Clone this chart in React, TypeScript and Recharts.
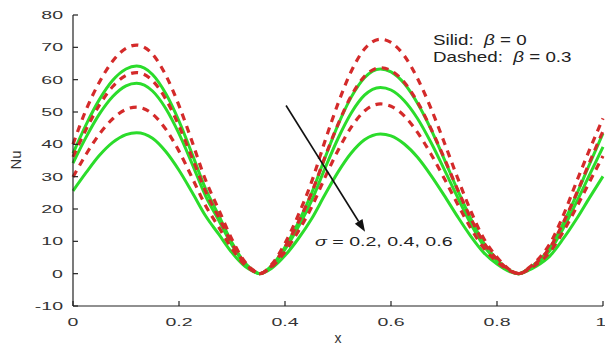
import { LineChart, Line, XAxis, YAxis, ReferenceLine } from 'recharts';

// x positions (denser near peaks and troughs)
const xs = [
    0, 0.025, 0.05, 0.075, 0.1, 0.12, 0.15, 0.175, 0.2, 0.225, 0.25, 0.275, 0.3, 0.325, 0.34, 0.352,
    0.375, 0.4, 0.425, 0.45, 0.475, 0.5, 0.525, 0.55, 0.58, 0.6, 0.625, 0.65, 0.675, 0.7, 0.725, 0.75, 0.775, 0.8, 0.825, 0.841,
    0.86, 0.875, 0.9, 0.925, 0.95, 0.975, 1
];

// solid: beta = 0
const solid02 = [
    37.2, 46.2, 53.9, 59.8, 63.3, 64.2, 61.6, 55.7, 47.2, 36.9, 26.3, 18.0, 9.6, 3.2, 1.0, 0,
    2.5, 8.2, 15.8, 24.8, 35.6, 46.0, 54.6, 60.6, 63.3, 62.4, 58.8, 52.7, 44.8, 35.6, 26.1, 17.2, 9.5, 4.4, 0.9, 0,
    1.6, 3.4, 8.0, 15.5, 24.4, 34.0, 43.4
];
const solid04 = [
    34.2, 42.3, 49.4, 54.8, 58.1, 58.9, 56.5, 51.1, 43.3, 33.9, 24.1, 16.5, 8.8, 2.9, 0.9, 0,
    2.3, 7.5, 14.4, 22.5, 32.4, 41.8, 49.7, 55.2, 57.6, 56.8, 53.5, 48.0, 40.7, 32.4, 23.8, 15.6, 8.6, 4.0, 0.9, 0,
    1.4, 3.1, 7.2, 14.0, 22.1, 30.7, 39.2
];
const solid06 = [
    25.6, 31.3, 36.6, 40.6, 43.0, 43.6, 41.9, 37.8, 32.0, 25.1, 17.9, 12.2, 6.5, 2.2, 0.7, 0,
    1.7, 5.6, 10.8, 16.9, 24.3, 31.4, 37.3, 41.4, 43.2, 42.6, 40.1, 36.0, 30.5, 24.3, 17.8, 11.7, 6.5, 3.0, 0.6, 0,
    1.1, 2.4, 5.5, 10.8, 16.9, 23.6, 30.1
];

// dashed: beta = 0.3
const dashed02 = [
    40.0, 50.8, 59.3, 65.8, 69.7, 70.7, 67.9, 61.4, 52.0, 40.7, 29.0, 19.8, 10.6, 3.5, 1.1, 0,
    2.9, 9.4, 18.1, 28.3, 40.8, 52.6, 62.6, 69.5, 72.5, 71.5, 67.4, 60.4, 51.3, 40.8, 29.9, 19.6, 10.9, 5.1, 1.1, 0,
    1.8, 4.0, 9.3, 18.0, 28.4, 38.5, 48.0
];
const dashed04 = [
    36.1, 44.7, 52.2, 57.9, 61.3, 62.2, 59.7, 54.0, 45.7, 35.8, 25.5, 17.4, 9.3, 3.1, 0.9, 0,
    2.5, 8.3, 15.9, 24.9, 35.9, 46.2, 55.0, 61.0, 63.7, 62.8, 59.2, 53.1, 45.0, 35.9, 26.3, 17.3, 9.6, 4.5, 1.0, 0,
    1.6, 3.5, 8.1, 15.8, 24.8, 34.6, 44.1
];
const dashed06 = [
    29.9, 37.0, 43.2, 47.9, 50.8, 51.5, 49.4, 44.7, 37.9, 29.6, 21.1, 14.4, 7.7, 2.6, 0.8, 0,
    2.1, 6.8, 13.1, 20.5, 29.6, 38.1, 45.3, 50.3, 52.5, 51.8, 48.8, 43.7, 37.1, 29.6, 21.7, 14.2, 7.9, 3.7, 0.8, 0,
    1.3, 2.9, 6.7, 13.0, 20.5, 28.5, 36.4
];

const xTicks = [0, 0.2, 0.4, 0.6, 0.8, 1];
const yTicks = [-10, 0, 10, 20, 30, 40, 50, 60, 70, 80];

const data = xs.map((x, i) => ({
    x,
    s02: solid02[i],
    s04: solid04[i],
    s06: solid06[i],
    d02: dashed02[i],
    d04: dashed04[i],
    d06: dashed06[i]
}));

const GREEN = '#2bdc2b';
const RED = '#d42a2a';
const AXIS = '#222';
const FONT = '"Liberation Sans", Arial, sans-serif';

// the source picture is stretched sideways, so the labels are too
const YTick = ({ x, y, payload }: any) => (
    <text x={0} y={0} transform={`translate(${x},${y}) scale(1.7,1)`} textAnchor="end" dy={4}
        fontSize={11.5} fill="#333" fontFamily={FONT}>{payload.value}</text>
);

const XTick = ({ x, y, payload }: any) => (
    <text x={0} y={0} transform={`translate(${x},${y}) scale(1.7,1)`} textAnchor="middle" dy={10}
        fontSize={11.5} fill="#333" fontFamily={FONT}>{payload.value}</text>
);

const Arrow = (p: any) => {
    const { x1, y1, x2, y2 } = p;
    const dx = x2 - x1;
    const dy = y2 - y1;
    const len = Math.sqrt(dx * dx + dy * dy);
    const ux = dx / len;
    const uy = dy / len;
    const bx = x2 - ux * 12;
    const by = y2 - uy * 12;
    return (
        <g>
            <line x1={x1} y1={y1} x2={bx} y2={by} stroke="#111" strokeWidth={1.6} />
            <polygon points={`${x2},${y2} ${bx - uy * 4.5},${by + ux * 4.5} ${bx + uy * 4.5},${by - ux * 4.5}`} fill="#111" />
        </g>
    );
};

const textStyle = {
    position: 'absolute' as const,
    whiteSpace: 'pre' as const,
    fontFamily: FONT,
    color: '#222',
    lineHeight: '16px',
    transformOrigin: 'left center'
};

export default function App() {
    return (
        <div style={{ position: 'absolute', left: 0, top: 0, width: 605, height: 347, background: '#fff' }}>
            <LineChart width={605} height={347} data={data} margin={{ top: 15, right: 2, left: 0, bottom: 0 }}>
                <XAxis dataKey="x" type="number" domain={[0, 1]} ticks={xTicks} height={41}
                    stroke={AXIS} strokeWidth={1.2} tickSize={-5} tickMargin={15} tick={<XTick />}
                    label={{ value: 'x', position: 'insideBottom', offset: 4, fontSize: 14, fill: '#333', fontFamily: FONT }} />
                <XAxis xAxisId="top" orientation="top" type="number" domain={[0, 1]} ticks={xTicks} height={0}
                    stroke={AXIS} strokeWidth={1.2} tickSize={-5} tick={false} />
                <YAxis type="number" domain={[-10, 80]} ticks={yTicks} width={73} interval={0}
                    stroke={AXIS} strokeWidth={1.2} tickSize={-5} tickMargin={15} tick={<YTick />}
                    label={{
                        content: () => (
                            <text x={0} y={0} transform="translate(21,160) rotate(-90)" textAnchor="middle"
                                fontSize={15} fill="#333" fontFamily={FONT}>Nu</text>
                        )
                    }} />
                <YAxis yAxisId="right" orientation="right" type="number" domain={[-10, 80]} ticks={yTicks} width={0}
                    stroke={AXIS} strokeWidth={1.2} tickSize={-5} tick={false} />

                <Line dataKey="s02" type="monotone" stroke={GREEN} strokeWidth={3} dot={false} isAnimationActive={false} />
                <Line dataKey="s04" type="monotone" stroke={GREEN} strokeWidth={3} dot={false} isAnimationActive={false} />
                <Line dataKey="s06" type="monotone" stroke={GREEN} strokeWidth={3} dot={false} isAnimationActive={false} />
                <Line dataKey="d02" type="monotone" stroke={RED} strokeWidth={3.2} strokeDasharray="7 6" dot={false} isAnimationActive={false} />
                <Line dataKey="d04" type="monotone" stroke={RED} strokeWidth={3.2} strokeDasharray="7 6" dot={false} isAnimationActive={false} />
                <Line dataKey="d06" type="monotone" stroke={RED} strokeWidth={3.2} strokeDasharray="7 6" dot={false} isAnimationActive={false} />

                <ReferenceLine segment={[{ x: 0.402, y: 52 }, { x: 0.551, y: 13 }]} shape={Arrow} />
            </LineChart>

            <div style={{ ...textStyle, left: 433, top: 32, fontSize: 14, transform: 'scaleX(1.34)' }}>
                Silid:  <i>β</i> = 0
            </div>
            <div style={{ ...textStyle, left: 433, top: 49, fontSize: 14, transform: 'scaleX(1.34)' }}>
                Dashed:  <i>β</i> = 0.3
            </div>
            <div style={{ ...textStyle, left: 315, top: 234, fontSize: 13.5, transform: 'scaleX(1.45)' }}>
                <i>σ</i> = 0.2, 0.4, 0.6
            </div>
        </div>
    );
}
